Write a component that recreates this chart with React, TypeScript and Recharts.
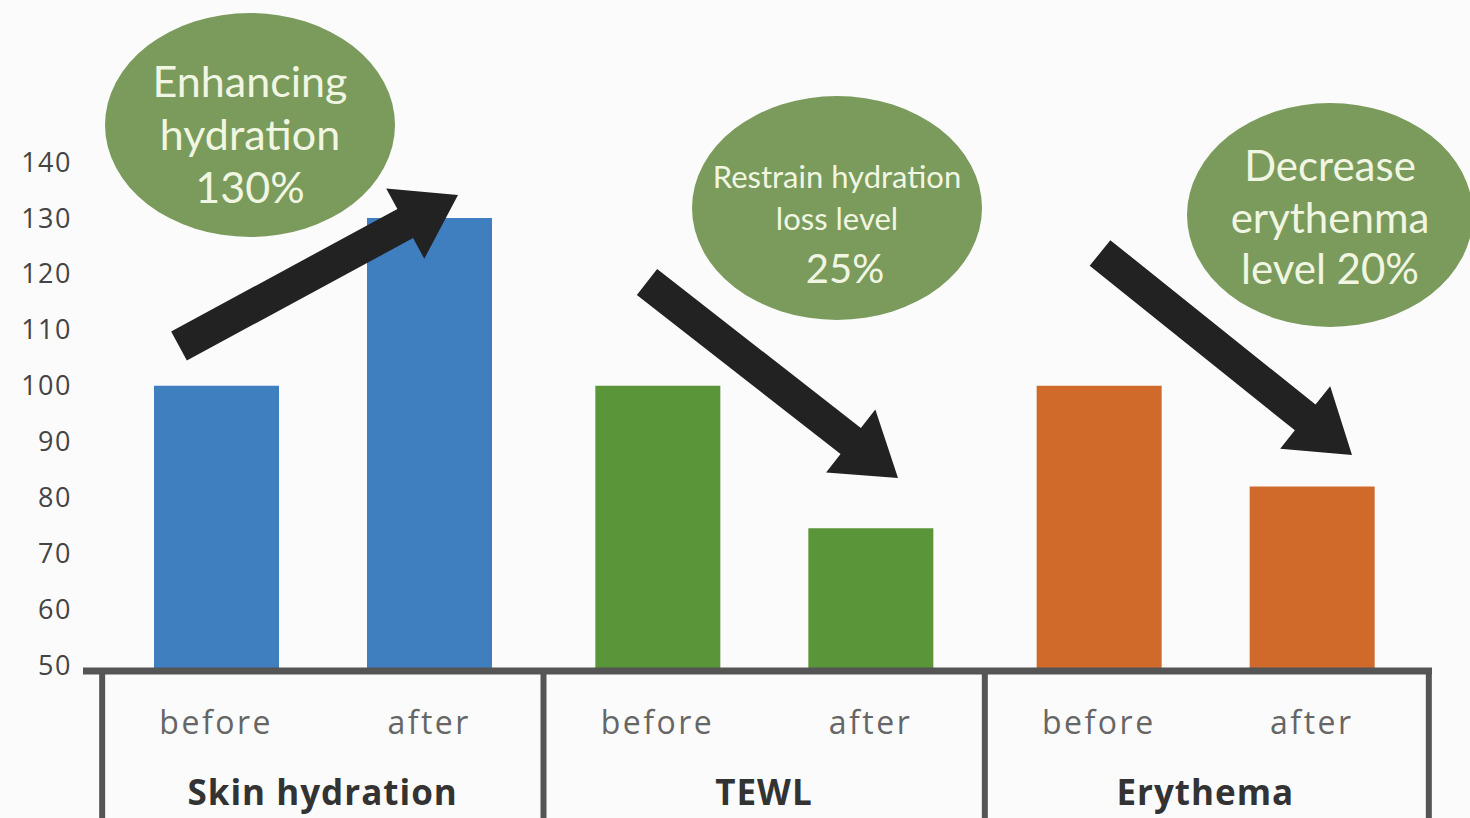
import { BarChart, Bar, XAxis, YAxis, Cell } from 'recharts';

// values
const categories = ['Skin hydration', 'TEWL', 'Erythema'];
const beforeValues = [100, 100, 100];
const afterValues = [130, 74.5, 82];
const yTicks = [50, 60, 70, 80, 90, 100, 110, 120, 130, 140];
const barColors = ['#3f7ebf', '#5b9539', '#cf6a2b'];

const data = categories.map((name, i) => ({
    name,
    before: beforeValues[i],
    after: afterValues[i],
}));

// callouts (ellipse + text lines) and arrows
const callouts = [
    { cx: 250, cy: 125, rx: 145, ry: 112, size: 43, lines: ['Enhancing', 'hydration', '130%'], ys: [80, 133, 186] },
    { cx: 837, cy: 208, rx: 145, ry: 112, size: 31, lines: ['Restrain hydration', 'loss level'], ys: [176, 218] },
    { cx: 1330, cy: 215, rx: 143, ry: 112, size: 42, lines: ['Decrease', 'erythenma', 'level 20%'], ys: [165, 217, 268] },
];
const arrows = [
    { from: [179, 346], to: [458, 195] },
    { from: [647, 282], to: [898, 478] },
    { from: [1100, 253], to: [1352, 455] },
];

const FONT = '"Open Sans", Lato, sans-serif';
const LINE = '#555555';

function arrowPoints(from: number[], to: number[], shaft = 33, headW = 80, headL = 60) {
    const [x1, y1] = from;
    const [x2, y2] = to;
    const len = Math.hypot(x2 - x1, y2 - y1);
    const ux = (x2 - x1) / len;
    const uy = (y2 - y1) / len;
    const px = -uy;
    const py = ux;
    const bx = x2 - ux * headL;
    const by = y2 - uy * headL;
    const pts = [
        [x1 + (px * shaft) / 2, y1 + (py * shaft) / 2],
        [bx + (px * shaft) / 2, by + (py * shaft) / 2],
        [bx + (px * headW) / 2, by + (py * headW) / 2],
        [x2, y2],
        [bx - (px * headW) / 2, by - (py * headW) / 2],
        [bx - (px * shaft) / 2, by - (py * shaft) / 2],
        [x1 - (px * shaft) / 2, y1 - (py * shaft) / 2],
    ];
    return pts.map((p) => p.join(',')).join(' ');
}

const GroupTick = ({ x, y, payload, index }: any) => {
    const half = 220.5;
    const off = 106.5;
    return (
        <g>
            <line x1={x - half} x2={x - half} y1={y} y2={y + 150} stroke={LINE} strokeWidth={6} />
            {index === categories.length - 1 && (
                <line x1={x + half + 3} x2={x + half + 3} y1={y} y2={y + 150} stroke={LINE} strokeWidth={6} />
            )}
            <text x={x - off} y={y + 50} textAnchor="middle" dominantBaseline="central"
                fontFamily={FONT} fontSize={32} fill="#666" letterSpacing={2.5}>before</text>
            <text x={x + off} y={y + 50} textAnchor="middle" dominantBaseline="central"
                fontFamily={FONT} fontSize={32} fill="#666" letterSpacing={2.5}>after</text>
            <text x={x} y={y + 120} textAnchor="middle" dominantBaseline="central"
                fontFamily={FONT} fontSize={35} fontWeight={700} fill="#333" letterSpacing={1}>{payload.value}</text>
        </g>
    );
};

export default function App() {
    return (
        <div style={{ position: 'absolute', left: 0, top: 0, width: 1470, height: 818, background: '#fbfbfb' }}>
            <BarChart
                width={1470}
                height={818}
                data={data}
                margin={{ top: 162, right: 38, left: 0, bottom: 0 }}
                barSize={125}
                barGap={88}
            >
                <XAxis
                    dataKey="name"
                    height={147}
                    padding={{ left: 19, right: 6 }}
                    axisLine={{ stroke: LINE, strokeWidth: 7 }}
                    tickLine={false}
                    tickSize={0}
                    tickMargin={0}
                    interval={0}
                    tick={<GroupTick />}
                />
                <YAxis
                    width={83}
                    domain={[49, 140]}
                    ticks={yTicks}
                    axisLine={false}
                    tickLine={false}
                    tickMargin={5}
                    allowDataOverflow
                    tick={{ fontFamily: FONT, fontSize: 27, fill: '#444', letterSpacing: 1.5 }}
                />
                <Bar dataKey="before" isAnimationActive={false}>
                    {data.map((_, i) => (
                        <Cell key={i} fill={barColors[i]} />
                    ))}
                </Bar>
                <Bar dataKey="after" isAnimationActive={false}>
                    {data.map((_, i) => (
                        <Cell key={i} fill={barColors[i]} />
                    ))}
                </Bar>
            </BarChart>
            <svg
                width={1470}
                height={818}
                style={{ position: 'absolute', left: 0, top: 0, pointerEvents: 'none' }}
            >
                {callouts.map((c, i) => (
                    <g key={i}>
                        <ellipse cx={c.cx} cy={c.cy} rx={c.rx} ry={c.ry} fill="#7a9b5c" />
                        {c.lines.map((t, j) => (
                            <text key={j} x={c.cx} y={c.ys[j]} textAnchor="middle" dominantBaseline="central"
                                fontFamily="Lato, sans-serif" fontSize={c.size} fill="#f1f6e2">{t}</text>
                        ))}
                    </g>
                ))}
                <text x={845} y={268} textAnchor="middle" dominantBaseline="central"
                    fontFamily="Lato, sans-serif" fontSize={40} fill="#f1f6e2">25%</text>
                {arrows.map((a, i) => (
                    <polygon key={i} points={arrowPoints(a.from, a.to)} fill="#222" />
                ))}
            </svg>
        </div>
    );
}
